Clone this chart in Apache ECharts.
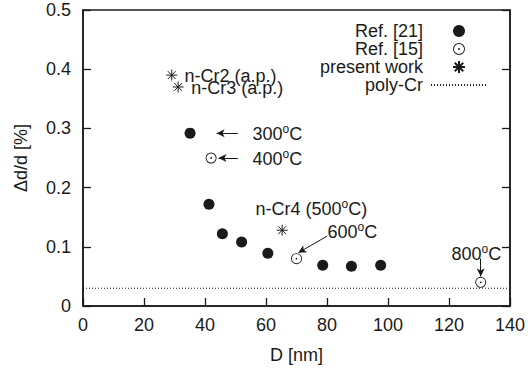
<!DOCTYPE html>
<html>
<head>
<meta charset="utf-8">
<script src="https://cdn.jsdelivr.net/npm/echarts@6/dist/echarts.min.js"></script>
<style>
	html, body { margin: 0; padding: 0; background: #fff; }
	#main { width: 528px; height: 369px; background: #fff; }
</style>
</head>
<body>
<div id="main"></div>
<script>
// Ref. [21] (filled circles)
var ref21X = [35.1, 41.3, 45.7, 52.0, 60.6, 78.6, 88.0, 97.6];
var ref21Y = [0.292, 0.172, 0.122, 0.108, 0.089, 0.069, 0.067, 0.069];
// Ref. [15] (open circles)
var ref15X = [42.0, 70.0, 130.4];
var ref15Y = [0.250, 0.080, 0.040];
// present work (stars)
var presentX = [29.1, 31.2, 65.3];
var presentY = [0.390, 0.370, 0.128];
// poly-Cr reference level
var polyX = [0, 140];
var polyY = [0.03, 0.03];
// tick labels
var xTickLabels = ['0', '20', '40', '60', '80', '100', '120', '140'];
var yTickLabels = ['0', '0.1', '0.2', '0.3', '0.4', '0.5'];

function zip(xs, ys) {
	var out = [];
	for (var i = 0; i < xs.length; i++) {
		out.push([xs[i], ys[i]]);
	}
	return out;
}

var FONT = '"Liberation Sans", Arial, Helvetica, sans-serif';
var INK = '#1a1a1a';
var FS = 18;

var rich = {
	t: { fontSize: FS, fontFamily: FONT, color: INK, lineHeight: 20, verticalAlign: 'bottom' },
	s: { fontSize: 12, fontFamily: FONT, color: INK, lineHeight: 20, verticalAlign: 'top' }
};

// text annotations (data coords)
function note(x, y, text, pos) {
	return {
		coord: [x, y],
		symbol: 'rect',
		symbolSize: 1,
		itemStyle: { color: 'rgba(0,0,0,0)' },
		label: {
			show: true,
			position: pos || 'right',
			distance: 0,
			formatter: text,
			rich: rich
		}
	};
}
function arrow(x1, y1, x2, y2) {
	return [{ coord: [x1, y1] }, { coord: [x2, y2] }];
}

var starPath = 'path://M0,-10L0,10M-10,0L10,0M-7.07,-7.07L7.07,7.07M-7.07,7.07L7.07,-7.07';
var ringPath = 'path://M0,-10A10,10 0 1,1 0,10A10,10 0 1,1 0,-10ZM0,-8.4A8.4,8.4 0 1,0 0,8.4A8.4,8.4 0 1,0 0,-8.4ZM0,-1.6A1.6,1.6 0 1,1 0,1.6A1.6,1.6 0 1,1 0,-1.6Z';

function axisLine() {
	return { show: true, onZero: false, lineStyle: { color: INK, width: 1.5 } };
}
function axisTick() {
	return { show: true, inside: true, length: 8, lineStyle: { color: INK, width: 1.3 } };
}

var option = {
	animation: false,
	grid: {
		show: true,
		left: 83,
		right: 18,
		top: 10,
		bottom: 63,
		borderColor: INK,
		borderWidth: 1.5,
		containLabel: false,
		outerBoundsMode: 'none'
	},
	legend: {
		orient: 'vertical',
		align: 'right',
		right: 35,
		top: 17,
		itemWidth: 56,
		itemHeight: 12,
		itemGap: 0,
		selectedMode: false,
		data: [
			'Ref. [21]',
			'Ref. [15]',
			'present work',
			{ name: 'poly-Cr', itemStyle: { color: 'rgba(0,0,0,0)', borderWidth: 0 } }
		],
		textStyle: {
			fontSize: FS,
			color: INK,
			fontFamily: FONT,
			padding: [0, 3, 0, 0]
		}
	},
	xAxis: [{
		type: 'value',
		position: 'bottom',
		min: 0,
		max: 140,
		interval: 20,
		name: 'D [nm]',
		nameLocation: 'middle',
		nameGap: 40,
		nameTextStyle: { fontSize: FS, color: INK, fontFamily: FONT },
		axisLine: axisLine(),
		axisTick: axisTick(),
		splitLine: { show: false },
		axisLabel: {
			fontSize: FS,
			color: INK,
			margin: 10,
			fontFamily: FONT,
			formatter: function (v) {
				return xTickLabels[Math.round(v / 20)];
			}
		}
	}],
	yAxis: [{
		type: 'value',
		position: 'left',
		min: 0,
		max: 0.5,
		interval: 0.1,
		name: 'Δd/d [%]',
		nameLocation: 'middle',
		nameGap: 53,
		nameRotate: 90,
		nameTextStyle: { fontSize: FS, color: INK, fontFamily: FONT },
		axisLine: axisLine(),
		axisTick: axisTick(),
		splitLine: { show: false },
		axisLabel: {
			fontSize: FS,
			color: INK,
			margin: 12,
			fontFamily: FONT,
			formatter: function (v) {
				return yTickLabels[Math.round(v * 10)];
			}
		}
	}, {
		type: 'value',
		position: 'right',
		min: 0,
		max: 0.5,
		interval: 0.1,
		axisLine: axisLine(),
		axisTick: axisTick(),
		axisLabel: { show: false },
		splitLine: { show: false }
	}],
	series: [{
		name: 'Ref. [21]',
		type: 'scatter',
		data: zip(ref21X, ref21Y),
		symbol: 'circle',
		symbolSize: 11,
		itemStyle: { color: INK, opacity: 1 },
		markPoint: {
			silent: true,
			data: [
				note(55.4, 0.292, '{t|300}{s|o}{t|C}')
			]
		},
		markLine: {
			silent: true,
			symbol: ['none', 'arrow'],
			symbolSize: [6, 8],
			label: { show: false },
			lineStyle: { color: INK, width: 1, type: 'solid' },
			data: [
				arrow(50.8, 0.292, 43.8, 0.292)
			]
		}
	}, {
		name: 'Ref. [15]',
		type: 'scatter',
		data: zip(ref15X, ref15Y),
		symbol: ringPath,
		symbolSize: 11,
		itemStyle: { color: INK, opacity: 1 },
		markPoint: {
			silent: true,
			data: [
				note(55.4, 0.250, '{t|400}{s|o}{t|C}'),
				note(80.0, 0.126, '{t|600}{s|o}{t|C}'),
				note(129.0, 0.089, '{t|800}{s|o}{t|C}', 'inside')
			]
		},
		markLine: {
			silent: true,
			symbol: ['none', 'arrow'],
			symbolSize: [6, 8],
			label: { show: false },
			lineStyle: { color: INK, width: 1, type: 'solid' },
			data: [
				arrow(50.8, 0.250, 44.4, 0.250),
				arrow(80.0, 0.118, 70.6, 0.090),
				arrow(130.4, 0.080, 130.4, 0.050)
			]
		}
	}, {
		name: 'present work',
		type: 'scatter',
		data: zip(presentX, presentY),
		symbol: starPath,
		symbolSize: 11,
		itemStyle: { color: INK, borderColor: INK, borderWidth: 1, opacity: 1 },
		markPoint: {
			silent: true,
			data: [
				note(33.1, 0.390, '{t|n-Cr2 (a.p.)}'),
				note(35.3, 0.370, '{t|n-Cr3 (a.p.)}'),
				note(56.4, 0.165, '{t|n-Cr4 (500}{s|o}{t|C)}')
			]
		}
	}, {
		name: 'poly-Cr',
		type: 'line',
		data: zip(polyX, polyY),
		symbol: 'none',
		showSymbol: false,
		lineStyle: { color: INK, width: 1, type: [1, 2] },
		itemStyle: { color: INK }
	}]
};

var chart = echarts.init(document.getElementById('main'), null, { renderer: 'svg' });
chart.setOption(option);
</script>
</body>
</html>
